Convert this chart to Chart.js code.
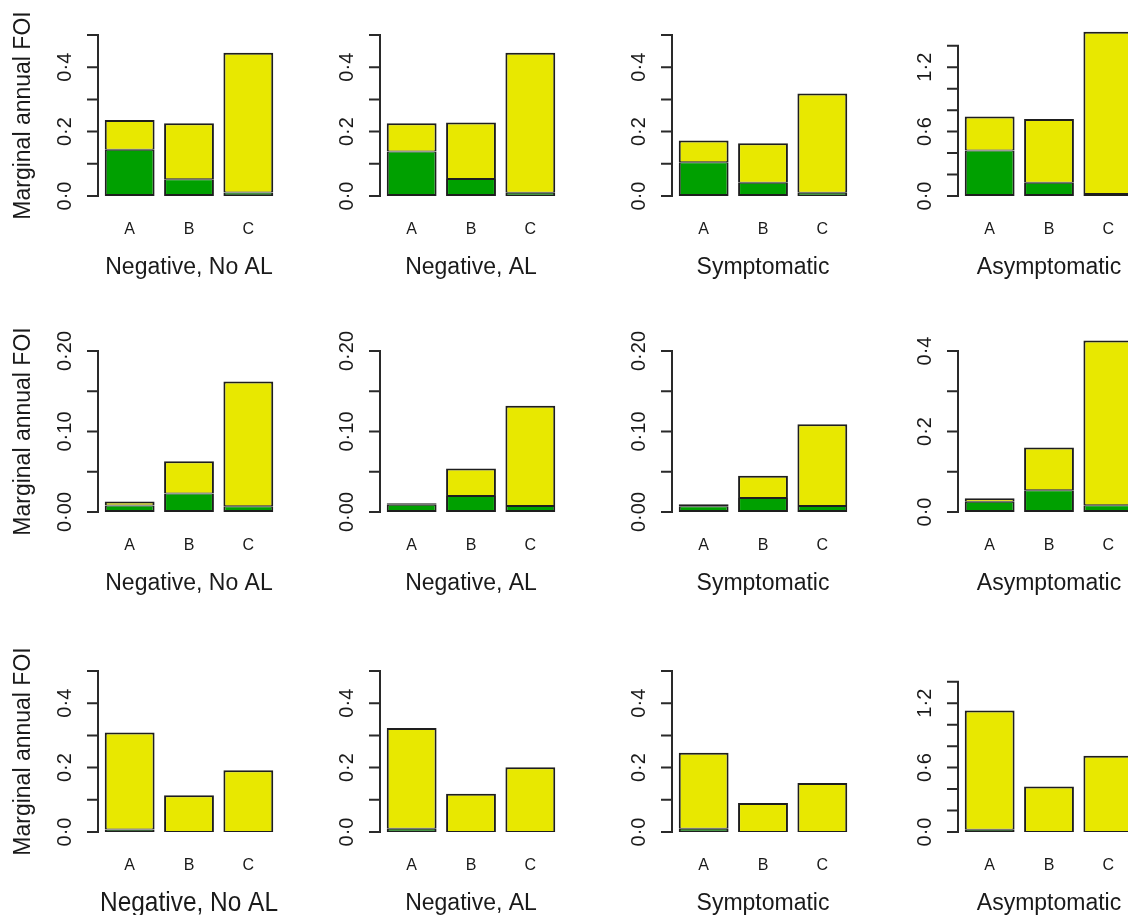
<!DOCTYPE html>
<html>
<head>
<meta charset="utf-8">
<title>Marginal annual FOI</title>
<script src="https://cdn.jsdelivr.net/npm/chart.js@4.4.1/dist/chart.umd.min.js"></script>
<style>
  html, body { margin: 0; padding: 0; background: #fff; overflow: hidden; }
  body { width: 1128px; height: 915px; position: relative; }
  canvas { position: absolute; }
</style>
</head>
<body>
<script>
// -----------------------------
// DATA
// -----------------------------
const categories = ['A', 'B', 'C'];
const panelTitles = ['Negative, No AL', 'Negative, AL', 'Symptomatic', 'Asymptomatic'];
const yTitle = 'Marginal annual FOI';

// bottom (green) and top (yellow) segment of each bar, one list per panel
const row1Green = [[0.144, 0.052, 0.011], [0.138, 0.053, 0.010], [0.105, 0.041, 0.010], [0.423, 0.124, 0.019]];
const row1Yellow = [[0.092, 0.174, 0.434], [0.088, 0.175, 0.435], [0.067, 0.123, 0.308], [0.317, 0.594, 1.511]];

const row2Green = [[0.008, 0.023, 0.007], [0.009, 0.020, 0.0075], [0.007, 0.0175, 0.0075], [0.0255, 0.054, 0.0165]];
const row2Yellow = [[0.005, 0.040, 0.155], [0.002, 0.034, 0.1245], [0.0026, 0.0275, 0.1015], [0.0085, 0.106, 0.4095]];

const row3Green = [[0.008, 0, 0], [0.010, 0, 0], [0.010, 0, 0], [0.020, 0, 0]];
const row3Yellow = [[0.301, 0.114, 0.192], [0.313, 0.119, 0.201], [0.236, 0.090, 0.152], [1.113, 0.423, 0.710]];

// y axes: tick values, the labels they carry, and the top of each plot
const ticksHalf = [0, 0.1, 0.2, 0.3, 0.4, 0.5];
const labelsHalf = ['0·0', '', '0·2', '', '0·4', ''];
const ticksFifth = [0, 0.05, 0.1, 0.15, 0.2];
const labelsFifth = ['0·00', '', '0·10', '', '0·20'];
const ticksFour = [0, 0.1, 0.2, 0.3, 0.4];
const labelsFour = ['0·0', '', '0·2', '', '0·4'];
const ticksWide = [0, 0.2, 0.4, 0.6, 0.8, 1.0, 1.2, 1.4];
const labelsWide = ['0·0', '', '', '0·6', '', '', '1·2', ''];

const row1Max = [0.5, 0.5, 0.5, 1.5];
const row2Max = [0.2, 0.2, 0.2, 0.4];
const row3Max = [0.5, 0.5, 0.5, 1.5];

// -----------------------------
// LAYOUT / STYLE
// -----------------------------
const GREEN = '#00a000';
const YELLOW = '#e8e800';
const EDGE = '#1e1e1e';
const INK = '#1a1a1a';
const FONT = '"Liberation Sans", Arial, sans-serif';

const axisX = [98, 380, 672, 958];   // y axis line of each column
const plotTop = [35, 351, 671];      // top of plot region of each row
const PLOT_H = 161;
const CANVAS_W = 290;
const AXIS_W = 100;
const PLOT_W = 178;
const XAXIS_H = 100;

Chart.defaults.font.family = FONT;
Chart.defaults.color = INK;

const rows = [
  { green: row1Green, yellow: row1Yellow, max: row1Max,
    ticks: [ticksHalf, ticksHalf, ticksHalf, ticksWide], labels: [labelsHalf, labelsHalf, labelsHalf, labelsWide] },
  { green: row2Green, yellow: row2Yellow, max: row2Max,
    ticks: [ticksFifth, ticksFifth, ticksFifth, ticksFour], labels: [labelsFifth, labelsFifth, labelsFifth, labelsFour] },
  { green: row3Green, yellow: row3Yellow, max: row3Max,
    ticks: [ticksHalf, ticksHalf, ticksHalf, ticksWide], labels: [labelsHalf, labelsHalf, labelsHalf, labelsWide] }
];

// -----------------------------
// R STYLE Y AXIS (line from first to last tick, rotated labels)
// -----------------------------
function rAxis(tickVals, tickLabels) {
  return {
    id: 'rAxis',
    afterDraw(chart) {
      const y = chart.scales.y;
      const ctx = chart.ctx;
      const x0 = chart.chartArea.left - 2;
      ctx.save();
      ctx.strokeStyle = '#2a2a2a';
      ctx.lineWidth = 2;
      ctx.beginPath();
      ctx.moveTo(x0, y.getPixelForValue(tickVals[0]) + 1);
      ctx.lineTo(x0, y.getPixelForValue(tickVals[tickVals.length - 1]) - 1);
      tickVals.forEach(v => {
        const py = y.getPixelForValue(v);
        ctx.moveTo(x0, py);
        ctx.lineTo(x0 - 11, py);
      });
      ctx.stroke();

      ctx.fillStyle = INK;
      ctx.font = '20px ' + FONT;
      ctx.textAlign = 'center';
      ctx.textBaseline = 'middle';
      tickVals.forEach((v, i) => {
        if (!tickLabels[i]) return;
        ctx.save();
        ctx.translate(x0 - 33, y.getPixelForValue(v));
        ctx.rotate(-Math.PI / 2);
        ctx.fillText(tickLabels[i], 0, 0);
        ctx.restore();
      });
      ctx.restore();
    }
  };
}

// -----------------------------
// ONE PANEL
// -----------------------------
function makePanel(r, c) {
  const row = rows[r];
  const canvas = document.createElement('canvas');
  canvas.width = CANVAS_W;
  canvas.height = 35 + PLOT_H + XAXIS_H;
  canvas.style.left = (axisX[c] - 98) + 'px';
  canvas.style.top = (plotTop[r] - 35) + 'px';
  document.body.appendChild(canvas);

  const titleSize = (r === 2 && c === 0) ? 28 : 23;

  new Chart(canvas, {
    type: 'bar',
    data: {
      labels: categories,
      datasets: [
        {
          data: row.green[c],
          backgroundColor: GREEN,
          borderColor: EDGE,
          borderWidth: { top: 1, right: 2, bottom: 2, left: 2 },
          borderSkipped: false,
          clip: false
        },
        {
          data: row.yellow[c],
          backgroundColor: YELLOW,
          borderColor: EDGE,
          borderWidth: { top: 2, right: 2, bottom: 1, left: 2 },
          borderSkipped: false,
          clip: false
        }
      ]
    },
    options: {
      responsive: false,
      animation: false,
      devicePixelRatio: 1,
      events: [],
      layout: { padding: { top: 35, right: CANVAS_W - AXIS_W - PLOT_W, bottom: 0, left: 0 } },
      datasets: { bar: { barPercentage: 0.84, categoryPercentage: 1 } },
      plugins: {
        legend: { display: false },
        tooltip: { enabled: false }
      },
      scales: {
        x: {
          stacked: true,
          grid: { display: false, drawTicks: false },
          border: { display: false },
          ticks: { font: { size: 16 }, color: INK, padding: 24, maxRotation: 0, autoSkip: false },
          title: {
            display: true,
            text: panelTitles[c],
            font: { size: titleSize },
            color: INK,
            padding: { top: 0, bottom: 28.5 - titleSize * 0.6 }
          },
          afterFit: s => { s.height = XAXIS_H; }
        },
        y: {
          stacked: true,
          min: 0,
          max: row.max[c],
          grid: { display: false, drawTicks: false },
          border: { display: false },
          ticks: { display: false },
          title: {
            display: c === 0,
            text: yTitle,
            font: { size: 23 },
            color: INK,
            padding: { top: 10, bottom: 0 }
          },
          afterFit: s => { s.width = AXIS_W; }
        }
      }
    },
    plugins: [rAxis(row.ticks[c], row.labels[c])]
  });
}

// -----------------------------
// INIT
// -----------------------------
for (let r = 0; r < rows.length; r++) {
  for (let c = 0; c < panelTitles.length; c++) {
    makePanel(r, c);
  }
}
</script>
</body>
</html>
